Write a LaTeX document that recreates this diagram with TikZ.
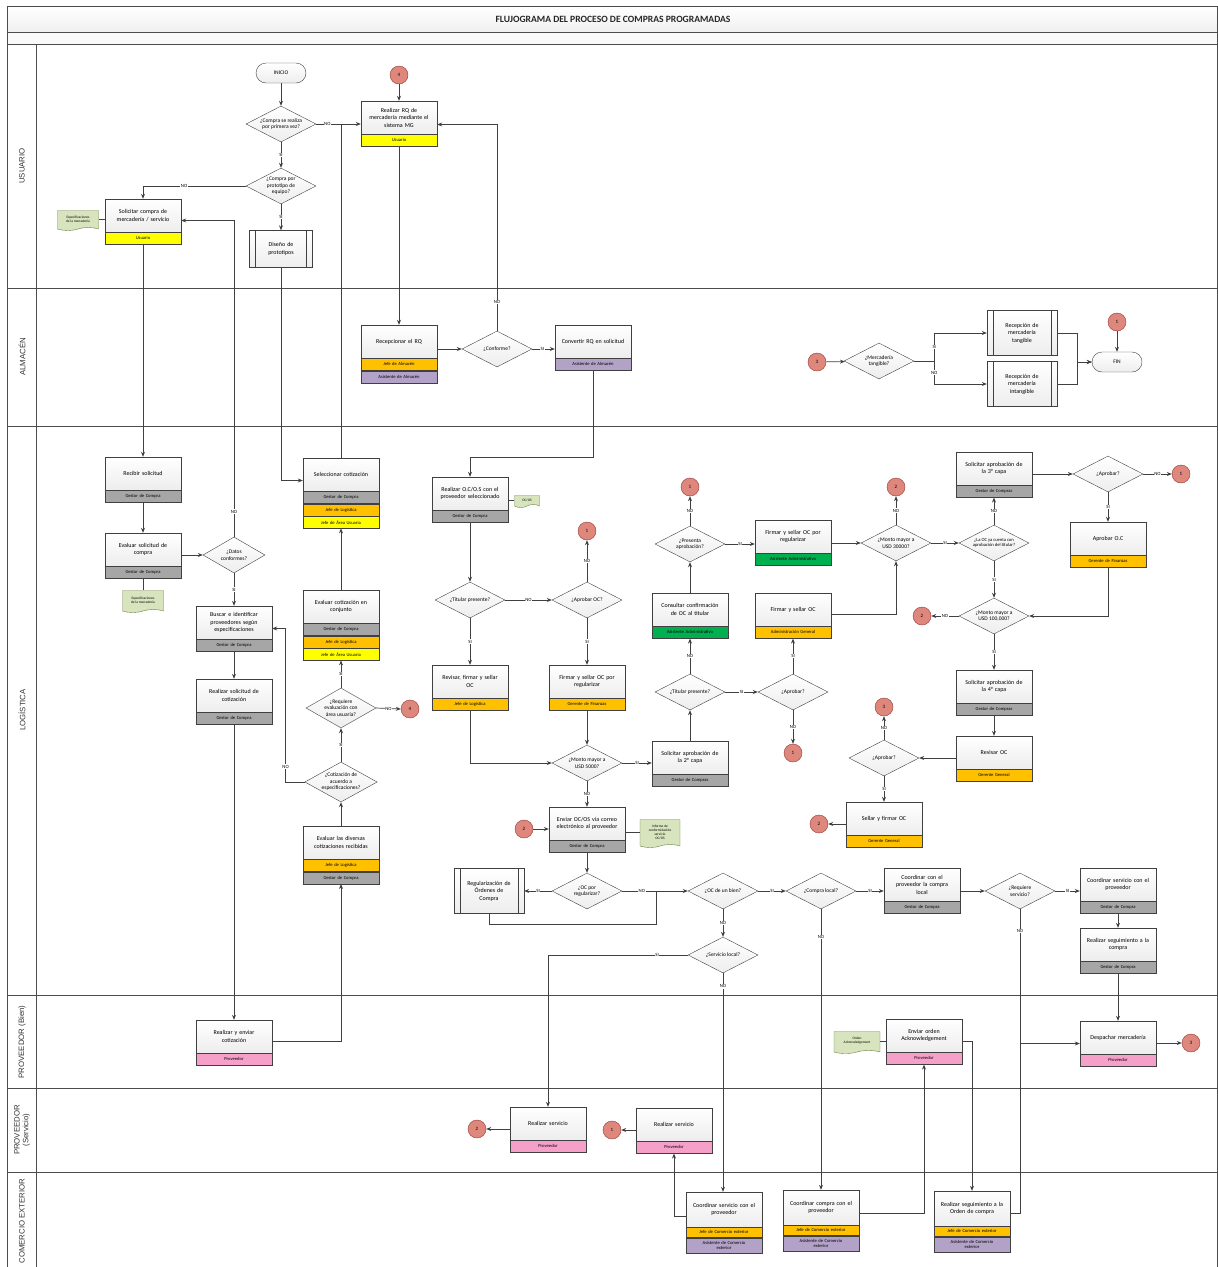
\documentclass[tikz,border=0pt]{standalone}
\usepackage{fontspec}
\setmainfont{Carlito}
\setsansfont{Liberation Sans}
\usepackage{tikz}
\usetikzlibrary{arrows.meta,calc,positioning,shapes.geometric,shapes.symbols}
\definecolor{cpyellow}{RGB}{255,255,0}
\definecolor{cporange}{RGB}{255,192,0}
\definecolor{cpgray}{RGB}{166,166,166}
\definecolor{cppurple}{RGB}{179,162,199}
\definecolor{cpgreen}{RGB}{0,176,80}
\definecolor{cppink}{RGB}{245,160,200}
\definecolor{cpred}{RGB}{222,135,125}
\definecolor{cpredline}{RGB}{150,55,50}
\definecolor{cpdoc}{RGB}{215,228,189}
\definecolor{cpdocline}{RGB}{110,130,70}
\definecolor{cpline}{RGB}{64,64,64}

\begin{document}
\begin{tikzpicture}[x=1pt,y=-1pt,
    lane/.style={draw=black!70, line width=0.8pt},
    lanelabel/.style={rotate=90, align=center, font=\fontsize{7.8}{8.8}\sffamily\selectfont, text=black!80},
    task/.style={draw=cpline, top color=white, bottom color=gray!14, minimum width=76pt, minimum height=33pt, text width=74pt, align=center, inner sep=1pt, font=\fontsize{6}{7.5}\selectfont},
    role/.style={draw=cpline, minimum width=76pt, minimum height=12pt, text width=74pt, align=center, inner sep=0.5pt, font=\fontsize{4.6}{5}\selectfont},
    rgray/.style={role, fill=cpgray},
    ryellow/.style={role, fill=cpyellow},
    rorange/.style={role, fill=cporange},
    rpurple/.style={role, fill=cppurple},
    rgreen/.style={role, fill=cpgreen},
    rpink/.style={role, fill=cppink},
    subproc/.style={task, minimum width=70pt, minimum height=45pt, text width=56pt,
      path picture={\draw[cpline] ([xshift=6pt]path picture bounding box.north west) -- ([xshift=6pt]path picture bounding box.south west)
        ([xshift=-6pt]path picture bounding box.north east) -- ([xshift=-6pt]path picture bounding box.south east);}},
    decision/.style={diamond, draw=cpline, top color=white, bottom color=gray!14, aspect=1.9, minimum width=70pt, minimum height=36pt, inner sep=0pt, align=center, font=\fontsize{5.5}{6.5}\selectfont},
    terminal/.style={draw=cpline, rounded corners=10pt, top color=white, bottom color=gray!14, minimum width=50pt, minimum height=20pt, font=\fontsize{5.5}{6}\selectfont},
    conn/.style={circle, draw=cpredline, fill=cpred, minimum size=18pt, inner sep=0pt, font=\fontsize{5}{6}\selectfont},
    docu/.style={tape, tape bend top=none, tape bend height=3pt, draw=cpdocline, fill=cpdoc, align=center, inner sep=1pt, font=\fontsize{3.5}{4}\selectfont},
    lbl/.style={fill=white, inner sep=0.6pt, font=\fontsize{4.8}{5}\selectfont},
    flow/.style={draw=cpline, line width=0.7pt, -{Stealth[length=5pt,width=4pt]}},
    link/.style={draw=cpline, line width=0.7pt}
  ]
  \useasboundingbox (0,0) rectangle (1218,1267);

  % carriles
  \draw[lane, top color=white, bottom color=gray!12] (7,6) rectangle (1217,32);
  \draw[lane, fill=gray!5] (7,32) rectangle (1217,44);
  \node[font=\fontsize{9.6}{10}\bfseries\selectfont, text=black!85] (titulo) at (613,19) {FLUJOGRAMA DEL PROCESO DE COMPRAS PROGRAMADAS};
  \draw[lane] (7,1267) -- (7,44) -- (1217,44) -- (1217,1267);
  \draw[lane] (36,44) -- (36,1267);
  \foreach \y in {288,426,995,1088,1172}
    \draw[lane] (7,\y) -- (1217,\y);
  \node[lanelabel] (l-usu) at (22,166) {USUARIO};
  \node[lanelabel] (l-alm) at (22,357) {ALMACÉN};
  \node[lanelabel] (l-log) at (22,710) {LOGÍSTICA};
  \node[lanelabel] (l-pvb) at (22,1042) {PROVEEDOR (Bien)};
  \node[lanelabel] (l-pvs) at (22,1130) {PROVEEDOR\\(Servicio)};
  \node[lanelabel] (l-cex) at (22,1221) {COMERCIO EXTERIOR};

  % usuario
  \node[terminal] (inicio) at (281,73) {INICIO};
  \node[decision] (d-prim) at (281,124) {¿Compra se realiza\\por primera vez?};
  \node[decision] (d-proto) at (281,186) {¿Compra por\\prototipo de\\equipo?};
  \node[conn] (c4a) at (399,75) {4};
  \node[task] (rq) at (399,117.5) {Realizar RQ de\\mercadería mediante el\\sistema MG};
  \node[ryellow, below=0pt of rq] (rq-r1) {Usuario};
  \node[task] (sol) at (143,215.5) {Solicitar compra de\\mercadería / servicio};
  \node[ryellow, below=0pt of sol] (sol-r1) {Usuario};
  \node[docu, minimum width=41pt, minimum height=20pt] (doc-esp1) at (78,219) {Especificaciones\\de la mercadería};
  \node[subproc, minimum width=63pt, minimum height=37pt] (dis) at (281,249) {Diseño de\\prototipos};

  % almacen
  \node[task] (recrq) at (399,341.5) {Recepcionar el RQ};
  \node[rorange, below=0pt of recrq] (recrq-r1) {Jefe de Almacén};
  \node[rpurple, below=0pt of recrq-r1] (recrq-r2) {Asistente de Almacén};
  \node[decision] (d-conf) at (497,349) {¿Conforme?};
  \node[task] (conv) at (593,341.5) {Convertir RQ en solicitud};
  \node[rpurple, below=0pt of conv] (conv-r1) {Asistente de Almacén};
  \node[conn] (c3a) at (817,362) {3};
  \node[decision] (d-tang) at (879,361) {¿Mercadería\\tangible?};
  \node[subproc] (rtan) at (1022,333) {Recepción de\\mercadería\\tangible};
  \node[subproc] (rint) at (1022,384) {Recepción de\\mercadería\\intangible};
  \node[terminal] (fin) at (1117,362) {FIN};
  \node[conn] (c1a) at (1117,322) {1};

  % logistica
  \node[task] (recsol) at (143,473.5) {Recibir solicitud};
  \node[rgray, below=0pt of recsol] (recsol-r1) {Gestor de Compra};
  \node[task] (eval) at (143,549.5) {Evaluar solicitud de\\compra};
  \node[rgray, below=0pt of eval] (eval-r1) {Gestor de Compra};
  \node[docu, minimum width=41pt, minimum height=22pt] (doc-esp2) at (143,600) {Especificaciones\\de la mercadería};
  \node[decision, minimum width=62pt] (d-datos) at (234,555) {¿Datos\\conformes?};
  \node[task] (busc) at (234,622.5) {Buscar e identificar\\proveedores según\\especificaciones};
  \node[rgray, below=0pt of busc] (busc-r1) {Gestor de Compra};
  \node[task] (rsc) at (234,695.5) {Realizar solicitud de\\cotización};
  \node[rgray, below=0pt of rsc] (rsc-r1) {Gestor de Compra};
  \node[task] (sel) at (341,474.5) {Seleccionar cotización};
  \node[rgray, below=0pt of sel] (sel-r1) {Gestor de Compra};
  \node[rorange, below=0pt of sel-r1] (sel-r2) {Jefe de Logística};
  \node[ryellow, below=0pt of sel-r2] (sel-r3) {Jefe de Área Usuaria};
  \node[task] (evc) at (341,606.5) {Evaluar cotización en\\conjunto};
  \node[rgray, below=0pt of evc] (evc-r1) {Gestor de Compra};
  \node[rorange, below=0pt of evc-r1] (evc-r2) {Jefe de Logística};
  \node[ryellow, below=0pt of evc-r2] (evc-r3) {Jefe de Área Usuaria};
  \node[decision, minimum height=40pt] (d-req) at (341,708) {¿Requiere\\evaluación con\\área usuaria?};
  \node[conn] (c4b) at (410,709) {4};
  \node[decision, minimum height=40pt] (d-cot) at (341,782) {¿Cotización de\\acuerdo a\\especificaciones?};
  \node[task] (evd) at (341,842.5) {Evaluar las diversas\\cotizaciones recibidas};
  \node[rorange, below=0pt of evd] (evd-r1) {Jefe de Logística};
  \node[rgray, below=0pt of evd-r1] (evd-r2) {Gestor de Compra};

  \node[task] (roc) at (470,493.5) {Realizar O.C/O.S con el\\proveedor seleccionado};
  \node[rgray, below=0pt of roc] (roc-r1) {Gestor de Compra};
  \node[docu, minimum width=25pt, minimum height=12pt] (doc-ocos) at (527,500) {OC/OS};
  \node[decision] (d-tit1) at (470,600) {¿Titular presente?};
  \node[decision] (d-aoc) at (587,600) {¿Aprobar OC?};
  \node[conn] (c1b) at (587,531) {1};
  \node[task] (rfs) at (470,681.5) {Revisar, firmar y sellar\\OC};
  \node[rorange, below=0pt of rfs] (rfs-r1) {Jefe de Logística};
  \node[task] (fsr) at (587,681.5) {Firmar y sellar OC por\\regularizar};
  \node[rorange, below=0pt of fsr] (fsr-r1) {Gerente de Finanzas};
  \node[decision] (d-m5) at (587,763) {¿Monto mayor a\\USD 5000?};
  \node[task] (sa2) at (690,757.5) {Solicitar aprobación de\\la 2° capa};
  \node[rgray, below=0pt of sa2] (sa2-r1) {Gestor de Compras};
  \node[decision] (d-tit2) at (690,692) {¿Titular presente?};
  \node[decision] (d-apr2) at (793,692) {¿Aprobar?};
  \node[conn] (c1c) at (793,753) {1};
  \node[task] (cons) at (690,609.5) {Consultar confirmación\\de OC al titular};
  \node[rgreen, below=0pt of cons] (cons-r1) {Asistente Administrativo};
  \node[task] (fsoc) at (793,609.5) {Firmar y sellar OC};
  \node[rorange, below=0pt of fsoc] (fsoc-r1) {Administración General};
  \node[decision] (d-pres) at (690,544) {¿Presenta\\aprobación?};
  \node[conn] (c1d) at (690,487) {1};
  \node[task] (fsr2) at (793,536.5) {Firmar y sellar OC por\\regularizar};
  \node[rgreen, below=0pt of fsr2] (fsr2-r1) {Asistente Administrativo};
  \node[decision] (d-m30) at (896,543) {¿Monto mayor a\\USD 30000?};
  \node[conn] (c2a) at (896,487) {2};
  \node[decision, font=\fontsize{4.6}{5.5}\selectfont] (d-cuenta) at (994,543) {¿La OC ya cuenta con\\aprobación del titular?};
  \node[task] (sa3) at (994,468.5) {Solicitar aprobación de\\la 3° capa};
  \node[rgray, below=0pt of sa3] (sa3-r1) {Gestor de Compras};
  \node[decision] (d-apr3) at (1108,474) {¿Aprobar?};
  \node[conn] (c1e) at (1181,474) {1};
  \node[task] (aoc) at (1108,538.5) {Aprobar O.C};
  \node[rorange, below=0pt of aoc] (aoc-r1) {Gerente de Finanzas};
  \node[decision] (d-m100) at (994,616) {¿Monto mayor a\\USD 100,000?};
  \node[conn] (c2b) at (922,616) {2};
  \node[task] (sa4) at (994,686.5) {Solicitar aprobación de\\la 4° capa};
  \node[rgray, below=0pt of sa4] (sa4-r1) {Gestor de Compras};
  \node[task] (rev) at (994,752.5) {Revisar OC};
  \node[rorange, below=0pt of rev] (rev-r1) {Gerente General};
  \node[decision] (d-apr4) at (884,758) {¿Aprobar?};
  \node[conn] (c3b) at (884,707) {3};
  \node[task] (sf) at (884,818.5) {Sellar y firmar OC};
  \node[rorange, below=0pt of sf] (sf-r1) {Gerente General};
  \node[conn] (c2c) at (819,824) {2};

  \node[task] (env) at (587,823.5) {Enviar OC/OS vía correo\\electrónico al proveedor};
  \node[rgray, below=0pt of env] (env-r1) {Gestor de Compra};
  \node[conn] (c2d) at (524,829) {2};
  \node[docu, minimum width=40pt, minimum height=28pt] (doc-inf) at (660,832) {Informe de\\conformidad de\\servicio\\OC/OS};
  \node[decision] (d-ocr) at (587,891) {¿OC por\\regularizar?};
  \node[subproc] (reg) at (489,891) {Regularización de\\Órdenes de\\Compra};
  \coordinate (j-ocr) at (656,891);
  \node[decision] (d-bien) at (723,891) {¿OC de un bien?};
  \node[decision] (d-serv) at (723,955) {¿Servicio local?};
  \node[decision] (d-local) at (821,891) {¿Compra local?};
  \node[task] (cloc) at (922,884.5) {Coordinar con el\\proveedor la compra\\local};
  \node[rgray, below=0pt of cloc] (cloc-r1) {Gestor de Compra};
  \node[decision] (d-reqs) at (1020,891) {¿Requiere\\servicio?};
  \node[task] (csp) at (1118,884.5) {Coordinar servicio con el\\proveedor};
  \node[rgray, below=0pt of csp] (csp-r1) {Gestor de Compra};
  \node[task] (rsg) at (1118,944.5) {Realizar seguimiento a la\\compra};
  \node[rgray, below=0pt of rsg] (rsg-r1) {Gestor de Compra};

  % proveedor (bien)
  \node[task] (rcot) at (234,1036.5) {Realizar y enviar\\cotización};
  \node[rpink, below=0pt of rcot] (rcot-r1) {Proveedor};
  \node[task] (ack) at (924,1035.5) {Enviar orden\\Acknowledgement};
  \node[rpink, below=0pt of ack] (ack-r1) {Proveedor};
  \node[docu, minimum width=46pt, minimum height=22pt] (doc-ack) at (857,1041) {Orden\\Acknowledgement};
  \node[task] (desp) at (1118,1037.5) {Despachar mercadería};
  \node[rpink, below=0pt of desp] (desp-r1) {Proveedor};
  \node[conn] (c3c) at (1191,1043) {3};
  \coordinate (j-desp) at (1020,1043);

  % proveedor (servicio)
  \node[task] (rs1) at (548,1123.5) {Realizar servicio};
  \node[rpink, below=0pt of rs1] (rs1-r1) {Proveedor};
  \node[conn] (c2e) at (477,1129) {2};
  \node[task] (rs2) at (674,1124.5) {Realizar servicio};
  \node[rpink, below=0pt of rs2] (rs2-r1) {Proveedor};
  \node[conn] (c1f) at (612,1130) {1};

  % comercio exterior
  \node[task, minimum height=35pt] (cse) at (724,1209.5) {Coordinar servicio con el\\proveedor};
  \node[rorange, minimum height=10pt, below=0pt of cse] (cse-r1) {Jefe de Comercio exterior};
  \node[rpurple, minimum height=15pt, below=0pt of cse-r1] (cse-r2) {Asistente de Comercio\\exterior};
  \node[task, minimum height=35pt] (ccp) at (821,1207.5) {Coordinar compra con el\\proveedor};
  \node[rorange, minimum height=10pt, below=0pt of ccp] (ccp-r1) {Jefe de Comercio exterior};
  \node[rpurple, minimum height=15pt, below=0pt of ccp-r1] (ccp-r2) {Asistente de Comercio\\exterior};
  \node[task, minimum height=35pt] (sgo) at (972,1208.5) {Realizar seguimiento a la\\Orden de compra};
  \node[rorange, minimum height=10pt, below=0pt of sgo] (sgo-r1) {Jefe de Comercio exterior};
  \node[rpurple, minimum height=15pt, below=0pt of sgo-r1] (sgo-r2) {Asistente de Comercio\\exterior};

  % conectores
  \draw[flow] (inicio) -- (d-prim);
  \draw[flow] (d-prim) -- node[lbl]{SI} (d-proto);
  \draw[flow] (d-prim.east) -- node[lbl, pos=0.25]{NO} (d-prim.east -| rq.west);
  \draw[flow] (d-proto.west) -| node[lbl, pos=0.3]{NO} (sol.north);
  \draw[flow] (d-proto) -- node[lbl]{SI} (dis);
  \draw[flow] (c4a) -- (rq);
  \draw[link] (doc-esp1.east) -- (doc-esp1.east -| sol.west);
  \draw[flow] (rq-r1.south) -- (recrq.north);
  \draw[flow] (d-datos.north) |- node[lbl, pos=0.04]{NO} ([yshift=-5pt]sol.east);
  \draw[link] (sel.north) -- (sel.north |- d-prim.east);
  \draw[flow] (dis.south) |- ([yshift=-6pt]sel.west);
  \draw[flow] (sol-r1.south) -- (recsol.north);
  \draw[flow] (d-conf.north) |- node[lbl, pos=0.07]{NO} ([yshift=-7pt]rq.east);

  \draw[flow] (recrq.east |- d-conf.west) -- (d-conf.west);
  \draw[flow] (d-conf.east) -- node[lbl, pos=0.45]{SI} (d-conf.east -| conv.west);
  \draw[flow] (conv-r1.south) -- ++(0,87) -| (roc.north);
  \draw[flow] (c3a) -- (d-tang);
  \draw[flow] (d-tang.east) -- ++(20,0) |- node[lbl, pos=0.25]{SI} (rtan.west);
  \draw[flow] (d-tang.east) -- ++(20,0) |- node[lbl, pos=0.25]{NO} (rint.west);
  \draw[flow] (rtan.east) -- ++(20,0) |- (fin.west);
  \draw[flow] (rint.east) -- ++(20,0) |- (fin.west);
  \draw[flow] (c1a) -- (fin);

  \draw[flow] (recsol-r1.south) -- (eval.north);
  \draw[flow] (eval.east |- d-datos.west) -- (d-datos.west);
  \draw[link] (eval-r1.south) -- (doc-esp2.north);
  \draw[flow] (d-datos.south) -- node[lbl]{SI} (busc.north);
  \draw[flow] (busc-r1.south) -- (rsc.north);
  \draw[flow] (rsc-r1.south) -- (rcot.north);
  \draw[flow] ([yshift=-5pt]rcot.east) -| (evd-r2.south);
  \draw[flow] (evd.north) -- (d-cot.south);
  \draw[flow] (d-cot.north) -- node[lbl]{SI} (d-req.south);
  \draw[flow] (d-req.north) -- node[lbl]{SI} (evc-r3.south);
  \draw[flow] (d-req.east) -- node[lbl]{NO} (c4b.west);
  \draw[flow] (evc.north) -- (sel-r3.south);
  \draw[flow] (d-cot.west) -- ++(-19,0) |- node[lbl, pos=0.05]{NO} ([yshift=-6pt]busc.east);

  \draw[flow] (roc-r1.south) -- (d-tit1.north);
  \draw[link] (doc-ocos.west -| roc.east) -- (doc-ocos.west);
  \draw[flow] (d-tit1) -- node[lbl]{NO} (d-aoc);
  \draw[flow] (d-aoc) -- node[lbl]{NO} (c1b);
  \draw[flow] (d-tit1) -- node[lbl]{SI} (rfs);
  \draw[flow] (d-aoc) -- node[lbl]{SI} (fsr);
  \draw[flow] (rfs-r1.south) |- (d-m5.west);
  \draw[flow] (fsr-r1.south) -- (d-m5.north);
  \draw[flow] (d-m5.east) -- node[lbl]{SI} (d-m5.east -| sa2.west);
  \draw[flow] (sa2.north) -- (d-tit2.south);
  \draw[flow] (d-tit2.north) -- node[lbl]{NO} (cons-r1.south);
  \draw[flow] (d-tit2) -- node[lbl]{SI} (d-apr2);
  \draw[flow] (d-apr2.north) -- node[lbl]{SI} (fsoc-r1.south);
  \draw[flow] (d-apr2) -- node[lbl]{NO} (c1c);
  \draw[flow] (cons.north) -- (d-pres.south);
  \draw[flow] (d-pres) -- node[lbl]{NO} (c1d);
  \draw[flow] (d-pres.east) -- node[lbl]{SI} (d-pres.east -| fsr2.west);
  \draw[flow] (fsr2.east |- d-m30.west) -- (d-m30.west);
  \draw[flow] ([yshift=-5pt]fsoc.east) -| (d-m30.south);
  \draw[flow] (d-m30) -- node[lbl]{NO} (c2a);
  \draw[flow] (d-m30) -- node[lbl]{SI} (d-cuenta);
  \draw[flow] (d-cuenta.north) -- node[lbl]{NO} (sa3-r1.south);
  \draw[flow] (sa3.east |- d-apr3.west) -- (d-apr3.west);
  \draw[flow] (d-apr3) -- node[lbl]{NO} (c1e);
  \draw[flow] (d-apr3) -- node[lbl]{SI} (aoc);
  \draw[flow] (aoc-r1.south) |- (d-m100.east);
  \draw[flow] (d-cuenta) -- node[lbl]{SI} (d-m100);
  \draw[flow] (d-m100) -- node[lbl]{NO} (c2b);
  \draw[flow] (d-m100) -- node[lbl]{SI} (sa4);
  \draw[flow] (sa4-r1.south) -- (rev.north);
  \draw[flow] (rev.west |- d-apr4.east) -- (d-apr4.east);
  \draw[flow] (d-apr4) -- node[lbl]{NO} (c3b);
  \draw[flow] (d-apr4) -- node[lbl]{SI} (sf);
  \draw[flow] (sf.west |- c2c.east) -- (c2c.east);

  \draw[flow] (d-m5) -- node[lbl]{NO} (env);
  \draw[flow] (c2d.east) -- (c2d.east -| env.west);
  \draw[link] (env.east |- doc-inf.west) -- (doc-inf.west);
  \draw[flow] (env-r1.south) -- (d-ocr.north);
  \draw[flow] (d-ocr) -- node[lbl]{SI} (reg);
  \draw[flow] (d-ocr) -- node[lbl, pos=0.3]{NO} (d-bien);
  \draw[link] (reg.south) -- ++(0,11) -| (j-ocr);
  \draw[flow] (d-bien) -- node[lbl]{SI} (d-local);
  \draw[flow] (d-bien) -- node[lbl]{NO} (d-serv);
  \draw[flow] (d-serv.west) -| node[lbl, pos=0.11]{SI} (rs1.north);
  \draw[flow] (d-serv.south) -- node[lbl, pos=0.06]{NO} (d-serv.south |- cse.north);
  \draw[flow] (d-local.east) -- node[lbl]{SI} (d-local.east -| cloc.west);
  \draw[flow] (d-local.south) -- node[lbl, pos=0.1]{NO} (d-local.south |- ccp.north);
  \draw[flow] (cloc.east |- d-reqs.west) -- (d-reqs.west);
  \draw[flow] (d-reqs.east) -- node[lbl]{SI} (d-reqs.east -| csp.west);
  \draw[flow] (csp-r1.south) -- (rsg.north);
  \draw[flow] (rsg-r1.south) -- (desp.north);
  \draw[flow] (d-reqs.south) |- node[lbl, pos=0.08]{NO} ([yshift=-6pt]desp.west);
  \draw[link] ([yshift=-5pt]sgo.east) -| (j-desp);
  \draw[flow] (desp.east |- c3c.west) -- (c3c.west);

  \draw[link] (doc-ack.east) -- (doc-ack.east -| ack.west);
  \draw[flow] ([yshift=-6pt]ack.east) -| (sgo.north);
  \draw[flow] ([yshift=-6pt]ccp.east) -| (ack-r1.south);
  \draw[flow] (rs1.west |- c2e.east) -- (c2e.east);
  \draw[flow] (rs2.west |- c1f.east) -- (c1f.east);
  \draw[flow] ([yshift=-7pt]cse.west) -| (rs2-r1.south);
\end{tikzpicture}
\end{document}
